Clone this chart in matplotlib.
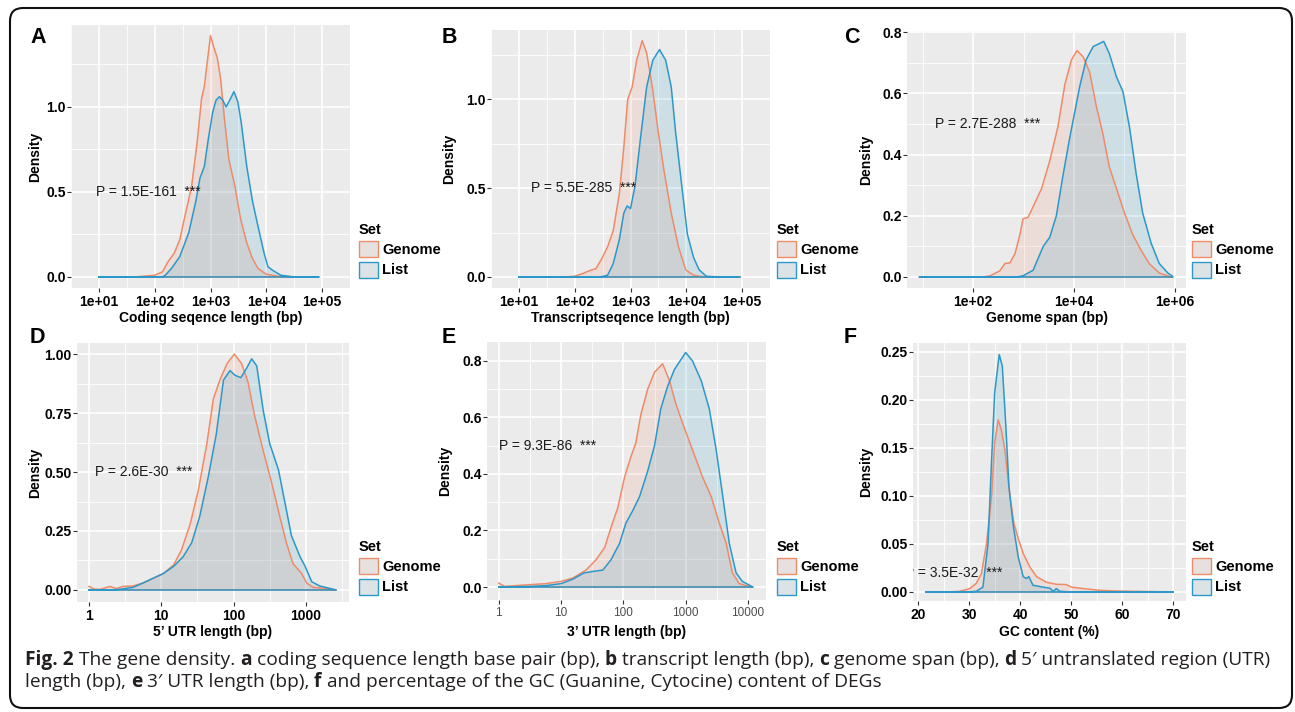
import numpy as np
import matplotlib
matplotlib.use("Agg")
import matplotlib.pyplot as plt
from matplotlib.patches import FancyBboxPatch, Patch
from matplotlib.transforms import IdentityTransform

# ---------------- data ----------------
series_names = ["Genome", "List"]

# A: coding sequence length, x = log10(bp)
a_genome_x = [1.0, 1.67, 2.0, 2.14, 2.24, 2.35, 2.45, 2.55, 2.66, 2.76, 2.84, 2.89, 2.94, 3.0, 3.07, 3.12,
              3.18, 3.25, 3.33, 3.44, 3.54, 3.65, 3.75, 3.85, 4.0, 4.21, 4.5, 4.94]
a_genome_y = [0, 0.001, 0.01, 0.03, 0.09, 0.14, 0.22, 0.37, 0.53, 0.79, 1.05, 1.12, 1.26, 1.42, 1.34, 1.29,
              1.17, 0.93, 0.69, 0.53, 0.34, 0.20, 0.11, 0.05, 0.016, 0.004, 0.0, 0.0]
a_list_x = [1.0, 2.14, 2.19, 2.30, 2.45, 2.61, 2.74, 2.81, 2.89, 2.96, 3.04, 3.10, 3.16, 3.22, 3.28, 3.36,
            3.42, 3.49, 3.55, 3.65, 3.75, 3.85, 3.96, 4.03, 4.11, 4.26, 4.5, 4.94]
a_list_y = [0, 0, 0.01, 0.05, 0.12, 0.26, 0.45, 0.58, 0.65, 0.81, 0.97, 1.04, 1.06, 1.04, 1.00, 1.05,
            1.09, 1.03, 0.91, 0.65, 0.45, 0.30, 0.14, 0.06, 0.04, 0.01, 0, 0]

# B: transcript length, x = log10(bp)
b_genome_x = [1.0, 1.83, 1.99, 2.15, 2.25, 2.38, 2.48, 2.59, 2.69, 2.80, 2.88, 2.95, 3.03, 3.11, 3.21, 3.29,
              3.40, 3.50, 3.60, 3.73, 3.86, 3.99, 4.13, 4.28, 4.5, 4.96]
b_genome_y = [0, 0, 0.004, 0.02, 0.034, 0.047, 0.10, 0.17, 0.26, 0.47, 0.73, 1.00, 1.07, 1.22, 1.33, 1.26,
              1.05, 0.81, 0.60, 0.36, 0.17, 0.04, 0.01, 0.002, 0, 0]
b_list_x = [1.0, 2.46, 2.59, 2.69, 2.80, 2.88, 2.94, 3.00, 3.08, 3.19, 3.29, 3.40, 3.52, 3.63, 3.73, 3.81,
            3.92, 4.02, 4.13, 4.23, 4.36, 4.6, 4.96]
b_list_y = [0, 0, 0.01, 0.075, 0.21, 0.36, 0.40, 0.385, 0.51, 0.81, 1.07, 1.22, 1.28, 1.22, 1.07, 0.81,
            0.51, 0.24, 0.11, 0.04, 0.004, 0, 0]

# C: genome span, x = log10(bp)
c_genome_x = [0.94, 2.2, 2.34, 2.53, 2.63, 2.73, 2.83, 2.93, 2.99, 3.09, 3.19, 3.36, 3.52, 3.68, 3.82, 3.95,
              4.06, 4.18, 4.31, 4.44, 4.57, 4.70, 4.84, 5.0, 5.16, 5.33, 5.49, 5.69, 5.89, 5.96]
c_genome_y = [0, 0, 0.004, 0.02, 0.044, 0.046, 0.076, 0.14, 0.19, 0.195, 0.23, 0.29, 0.38, 0.49, 0.63, 0.71,
              0.74, 0.72, 0.67, 0.56, 0.47, 0.36, 0.29, 0.21, 0.14, 0.087, 0.044, 0.013, 0.002, 0]
c_list_x = [0.94, 2.86, 2.99, 3.19, 3.39, 3.52, 3.65, 3.78, 3.91, 4.11, 4.24, 4.38, 4.59, 4.70, 4.84, 4.97,
            5.10, 5.23, 5.36, 5.53, 5.69, 5.86, 5.94, 5.96]
c_list_y = [0, 0, 0.004, 0.022, 0.10, 0.13, 0.20, 0.33, 0.45, 0.62, 0.71, 0.753, 0.77, 0.73, 0.655, 0.606,
            0.49, 0.34, 0.21, 0.11, 0.044, 0.013, 0.004, 0.0]

# D: 5' UTR length, x = log10(bp)
d_genome_x = [0, 0.08, 0.16, 0.29, 0.38, 0.47, 0.61, 0.75, 0.89, 1.03, 1.17, 1.28, 1.40, 1.51, 1.63, 1.72,
              1.81, 1.91, 2.01, 2.11, 2.20, 2.29, 2.41, 2.53, 2.64, 2.73, 2.82, 2.94, 3.01, 3.10, 3.29, 3.42]
d_genome_y = [0.015, 0.003, 0.003, 0.015, 0.006, 0.015, 0.017, 0.03, 0.05, 0.07, 0.106, 0.17, 0.28, 0.42, 0.62, 0.81,
              0.89, 0.96, 1.00, 0.96, 0.88, 0.74, 0.59, 0.45, 0.31, 0.20, 0.113, 0.07, 0.03, 0.011, 0.006, 0.0]
d_list_x = [0, 0.29, 0.43, 0.61, 0.75, 0.89, 1.03, 1.17, 1.30, 1.42, 1.53, 1.65, 1.76, 1.86, 1.95, 2.02,
            2.10, 2.18, 2.25, 2.32, 2.41, 2.50, 2.62, 2.71, 2.80, 2.92, 2.99, 3.08, 3.19, 3.42]
d_list_y = [0, 0, 0.003, 0.011, 0.03, 0.05, 0.07, 0.10, 0.14, 0.20, 0.31, 0.48, 0.66, 0.89, 0.93, 0.91,
            0.90, 0.94, 0.98, 0.95, 0.76, 0.62, 0.51, 0.37, 0.23, 0.14, 0.10, 0.035, 0.017, 0]

# E: 3' UTR length, x = log10(bp)
e_genome_x = [0, 0.09, 0.28, 0.49, 0.76, 1.0, 1.19, 1.40, 1.56, 1.70, 1.80, 1.91, 2.02, 2.12, 2.20, 2.28,
              2.39, 2.50, 2.63, 2.74, 2.84, 2.95, 3.11, 3.27, 3.41, 3.54, 3.65, 3.75, 3.86, 4.02, 4.08]
e_genome_y = [0.014, 0.002, 0.005, 0.008, 0.012, 0.02, 0.032, 0.06, 0.096, 0.14, 0.21, 0.28, 0.39, 0.46, 0.51, 0.61,
              0.70, 0.76, 0.79, 0.73, 0.65, 0.58, 0.485, 0.39, 0.32, 0.226, 0.155, 0.05, 0.012, 0.002, 0]
e_list_x = [0, 0.49, 0.76, 1.0, 1.19, 1.37, 1.51, 1.67, 1.80, 1.94, 2.04, 2.15, 2.26, 2.39, 2.50, 2.60,
            2.71, 2.82, 3.0, 3.11, 3.25, 3.38, 3.49, 3.59, 3.70, 3.81, 3.91, 4.06, 4.08]
e_list_y = [0, 0.002, 0.005, 0.012, 0.028, 0.05, 0.055, 0.06, 0.096, 0.155, 0.226, 0.27, 0.32, 0.41, 0.50, 0.63,
            0.71, 0.77, 0.83, 0.80, 0.73, 0.63, 0.485, 0.33, 0.155, 0.05, 0.02, 0.002, 0]

# F: GC content (%)
f_genome_x = [21.5, 26.2, 28.2, 30.1, 31.4, 32.4, 33.4, 34.4, 35.0, 35.7, 36.3, 37.0, 38.0, 38.8, 39.6, 40.6,
              41.9, 43.2, 45.2, 47.1, 49.0, 50.1, 52.4, 55.6, 58.9, 62.2, 70.0]
f_genome_y = [0, 0, 0.0007, 0.0035, 0.009, 0.019, 0.05, 0.10, 0.155, 0.179, 0.169, 0.148, 0.099, 0.071, 0.056, 0.040,
              0.026, 0.016, 0.010, 0.008, 0.0077, 0.005, 0.0035, 0.0017, 0.001, 0.0007, 0]
f_list_x = [21.5, 29.5, 31.4, 32.7, 33.7, 34.4, 35.0, 35.9, 36.5, 37.2, 37.8, 38.6, 39.6, 40.6, 41.2, 41.7,
            42.5, 44.5, 45.8, 46.5, 47.1, 47.8, 50.0, 70.0]
f_list_y = [0, 0, 0.0007, 0.005, 0.05, 0.137, 0.207, 0.247, 0.235, 0.172, 0.11, 0.071, 0.037, 0.016, 0.014, 0.016,
            0.007, 0.005, 0.004, 0.0007, 0.0035, 0.0007, 0, 0]

panel_letters = ["A", "B", "C", "D", "E", "F"]
x_titles = ["Coding seqence length (bp)", "Transcriptseqence length (bp)", "Genome span (bp)",
            "5\u2019 UTR length (bp)", "3\u2019 UTR length (bp)", "GC content (%)"]
p_texts = ["P = 1.5E-161  ***", "P = 5.5E-285  ***", "P = 2.7E-288  ***",
           "P = 2.6E-30  ***", "P = 9.3E-86  ***", "P = 3.5E-32  ***"]

a_xticks = [1, 2, 3, 4, 5]; a_xlabels = ["1e+01", "1e+02", "1e+03", "1e+04", "1e+05"]
c_xticks = [2, 4, 6]; c_xlabels = ["1e+02", "1e+04", "1e+06"]
d_xticks = [0, 1, 2, 3]; d_xlabels = ["1", "10", "100", "1000"]
e_xticks = [0, 1, 2, 3, 4]; e_xlabels = ["1", "10", "100", "1000", "10000"]
f_xticks = [20, 30, 40, 50, 60, 70]; f_xlabels = ["20", "30", "40", "50", "60", "70"]
ab_yticks = [0.0, 0.5, 1.0]; ab_ylabels = ["0.0", "0.5", "1.0"]
ce_yticks = [0.0, 0.2, 0.4, 0.6, 0.8]; ce_ylabels = ["0.0", "0.2", "0.4", "0.6", "0.8"]
d_yticks = [0.0, 0.25, 0.5, 0.75, 1.0]; d_ylabels = ["0.00", "0.25", "0.50", "0.75", "1.00"]
f_yticks = [0.0, 0.05, 0.10, 0.15, 0.20, 0.25]; f_ylabels = ["0.00", "0.05", "0.10", "0.15", "0.20", "0.25"]

# ---------------- style ----------------
W, H = 1295, 712
FONT = ["Liberation Sans", "DejaVu Sans"]
plt.rcParams["font.family"] = FONT
GEN_C = "#EE8B68"
LIST_C = "#2C98C9"
FILL_A = 0.15
BG = "#EBEBEB"

fig = plt.figure(figsize=(W / 100, H / 100), dpi=100)
fig.patch.set_facecolor("white")


def fx(px):
    return px / W


def fy(py):
    return 1 - py / H


def make_axes(l, r, t, b):
    return fig.add_axes([fx(l), fy(b), (r - l) / W, (b - t) / H])


panels = [
    dict(box=(71, 350, 25, 288), log=True, g=(a_genome_x, a_genome_y), l=(a_list_x, a_list_y),
         xlim=(0.814, 5.14), xt=a_xticks, xl=a_xlabels, xm=[0.5, 1.5, 2.5, 3.5, 4.5, 5.5],
         ylim=(-0.065, 1.482), yt=ab_yticks, yl=ab_ylabels, ym=[0.25, 0.75, 1.25],
         ptx=(0.94, 0.5, "left"), leg=(359, 223), ylab=35, letter=(30, 43)),
    dict(box=(491, 770, 30, 288), log=True, g=(b_genome_x, b_genome_y), l=(b_list_x, b_list_y),
         xlim=(0.81, 5.17), xt=a_xticks, xl=a_xlabels, xm=[0.5, 1.5, 2.5, 3.5, 4.5, 5.5],
         ylim=(-0.062, 1.39), yt=ab_yticks, yl=ab_ylabels, ym=[0.25, 0.75, 1.25],
         ptx=(1.22, 0.5, "left"), leg=(777, 223), ylab=449, letter=(442, 43)),
    dict(box=(907, 1186, 31, 288), log=True, g=(c_genome_x, c_genome_y), l=(c_list_x, c_list_y),
         xlim=(0.69, 6.22), xt=c_xticks, xl=c_xlabels, xm=[1, 3, 5],
         ylim=(-0.036, 0.804), yt=ce_yticks, yl=ce_ylabels, ym=[0.1, 0.3, 0.5, 0.7],
         ptx=(1.25, 0.5, "left"), leg=(1192, 223), ylab=866, letter=(844, 43)),
    dict(box=(77, 349, 343, 602), log=True, g=(d_genome_x, d_genome_y), l=(d_list_x, d_list_y),
         xlim=(-0.166, 3.596), xt=d_xticks, xl=d_xlabels, xm=[0.5, 1.5, 2.5, 3.5],
         ylim=(-0.051, 1.047), yt=d_yticks, yl=d_ylabels, ym=[0.125, 0.375, 0.625, 0.875],
         ptx=(0.08, 0.5, "left"), leg=(359, 540), ylab=35, letter=(30, 343)),
    dict(box=(487, 766, 342, 600), log=True, g=(e_genome_x, e_genome_y), l=(e_list_x, e_list_y),
         xlim=(-0.19, 4.29), xt=e_xticks, xl=e_xlabels, xm=[0.5, 1.5, 2.5, 3.5],
         ylim=(-0.046, 0.867), yt=ce_yticks, yl=ce_ylabels, ym=[0.1, 0.3, 0.5, 0.7],
         ptx=(0.0, 0.5, "left"), leg=(777, 540), ylab=445, letter=(442, 343)),
    dict(box=(913, 1186, 343, 601), log=False, g=(f_genome_x, f_genome_y), l=(f_list_x, f_list_y),
         xlim=(19.0, 72.5), xt=f_xticks, xl=f_xlabels, xm=[25, 35, 45, 55, 65],
         ylim=(-0.0094, 0.259), yt=f_yticks, yl=f_ylabels, ym=[0.025, 0.075, 0.125, 0.175, 0.225],
         ptx=(36.5, 0.02, "right"), leg=(1192, 540), ylab=866, letter=(844, 343)),
]

for i, p in enumerate(panels):
    l, r, t, b = p["box"]
    ax = make_axes(l, r, t, b)
    ax.set_facecolor(BG)
    log = p["log"]
    tr = (lambda v: np.power(10.0, np.asarray(v, dtype=float))) if log else (lambda v: np.asarray(v, dtype=float))
    if log:
        ax.set_xscale("log")
    for (xs, ys), col, a in ((p["g"], GEN_C, FILL_A), (p["l"], LIST_C, FILL_A)):
        xx = tr(xs)
        yy = np.asarray(ys, dtype=float)
        ax.fill_between(xx, 0, yy, facecolor=col, alpha=a, linewidth=0, zorder=2)
        ax.plot(np.concatenate([xx, xx[::-1][:1], xx[:1]]),
                np.concatenate([yy, [0], [0]]), color=col, lw=1.1, zorder=3,
                solid_joinstyle="round")
    x0, x1 = p["xlim"]
    ax.set_xlim(tr([x0, x1]))
    ax.set_ylim(p["ylim"])
    xbold = "normal" if i == 4 else "bold"
    xcol = "#4D4D4D" if i == 4 else "black"
    xsize = 8.5 if i == 4 else 10
    ax.set_xticks(tr(p["xt"]), p["xl"], fontweight=xbold, color=xcol, fontsize=xsize)
    ax.set_xticks(tr(p["xm"]), minor=True)
    ax.set_xticklabels([], minor=True)
    ax.set_yticks(p["yt"], p["yl"], fontweight="bold", fontsize=10)
    ax.set_yticks(p["ym"], minor=True)
    ax.set_yticklabels([], minor=True)
    ax.grid(which="major", color="white", linewidth=1.2, zorder=1)
    ax.grid(which="minor", color="white", linewidth=0.6, zorder=1)
    ax.set_axisbelow(True)
    for s in ax.spines.values():
        s.set_visible(False)
    ax.tick_params(which="major", direction="out", length=2.6, width=0.8, color="#333333")
    ax.tick_params(axis="x", which="major", pad=2.5)
    ax.tick_params(axis="y", which="major", pad=1.2)
    ax.tick_params(which="minor", length=0)

    ax.set_xlabel(x_titles[i], fontweight="bold", fontsize=10, va="center")
    xl_px = 318 if i < 3 else 632
    ax.xaxis.set_label_coords(0.5, (b - xl_px) / (b - t))
    ax.set_ylabel("Density", fontweight="bold", fontsize=10, va="center")
    ax.yaxis.set_label_coords((p["ylab"] - l) / (r - l), 0.5)

    px, py, pha = p["ptx"]
    ax.text(float(tr([px])[0]), py, p_texts[i], ha=pha, va="center", fontsize=10,
            color="#1A1A1A", clip_on=True, zorder=5)

    handles = [Patch(facecolor="#E6E1DF", edgecolor=GEN_C, linewidth=1.0, label=series_names[0]),
               Patch(facecolor="#DCE3E6", edgecolor=LIST_C, linewidth=1.0, label=series_names[1])]
    lx, ly = p["leg"]
    ax.legend(handles=handles, title="Set", loc="upper left", bbox_to_anchor=(fx(lx), fy(ly)),
              bbox_transform=fig.transFigure, frameon=False, fontsize=10.5,
              title_fontproperties={"weight": "bold", "size": 10.5},
              prop={"weight": "bold", "size": 10.5},
              handlelength=1.3, handleheight=1.3, handletextpad=0.3, labelspacing=0.3,
              borderpad=0, borderaxespad=0, alignment="left")

    lxp, lyp = p["letter"]
    fig.text(fx(lxp), fy(lyp), panel_letters[i], fontsize=15.5, fontweight="bold",
             ha="left", va="baseline", color="black")

frame = FancyBboxPatch((10, 4), 1282, 700, boxstyle="round,pad=0,rounding_size=13",
                       transform=IdentityTransform(), facecolor="none", edgecolor="#111111",
                       linewidth=1.5, zorder=10)
fig.add_artist(frame)

cap_line1 = [("Fig. 2", True), (" The gene density. ", False), ("a", True),
             (" coding sequence length base pair (bp), ", False), ("b", True),
             (" transcript length (bp), ", False), ("c", True), (" genome span (bp), ", False),
             ("d", True), (" 5\u2032 untranslated region (UTR)", False)]
cap_line2 = [("length (bp), ", False), ("e", True), (" 3\u2032 UTR length (bp), ", False), ("f", True),
             (" and percentage of the GC (Guanine, Cytocine) content of DEGs", False)]
CAP_FONT = ["Open Sans", "DejaVu Sans"]
renderer = fig.canvas.get_renderer()


def advance(txt, bold, size):
    w = []
    for s in ("x" + txt + "x", "xx"):
        t = fig.text(0, 0, s, fontsize=size, fontweight="bold" if bold else "normal", family=CAP_FONT)
        w.append(t.get_window_extent(renderer).width)
        t.remove()
    return w[0] - w[1]


base_size = 13
total = sum(advance(s, bd, base_size) for s, bd in cap_line1)
cap_size = base_size * (1238.0 / total)


def draw_line(segs, x0, base_y):
    x = x0
    for s, bd in segs:
        fig.text(fx(x), fy(base_y), s, fontsize=cap_size, fontweight="bold" if bd else "normal",
                 family=CAP_FONT, ha="left", va="baseline", color="#231F20")
        x += advance(s, bd, cap_size)


draw_line(cap_line1, 25, 665)
draw_line(cap_line2, 25, 687)

fig.savefig("out.png", dpi=100)
